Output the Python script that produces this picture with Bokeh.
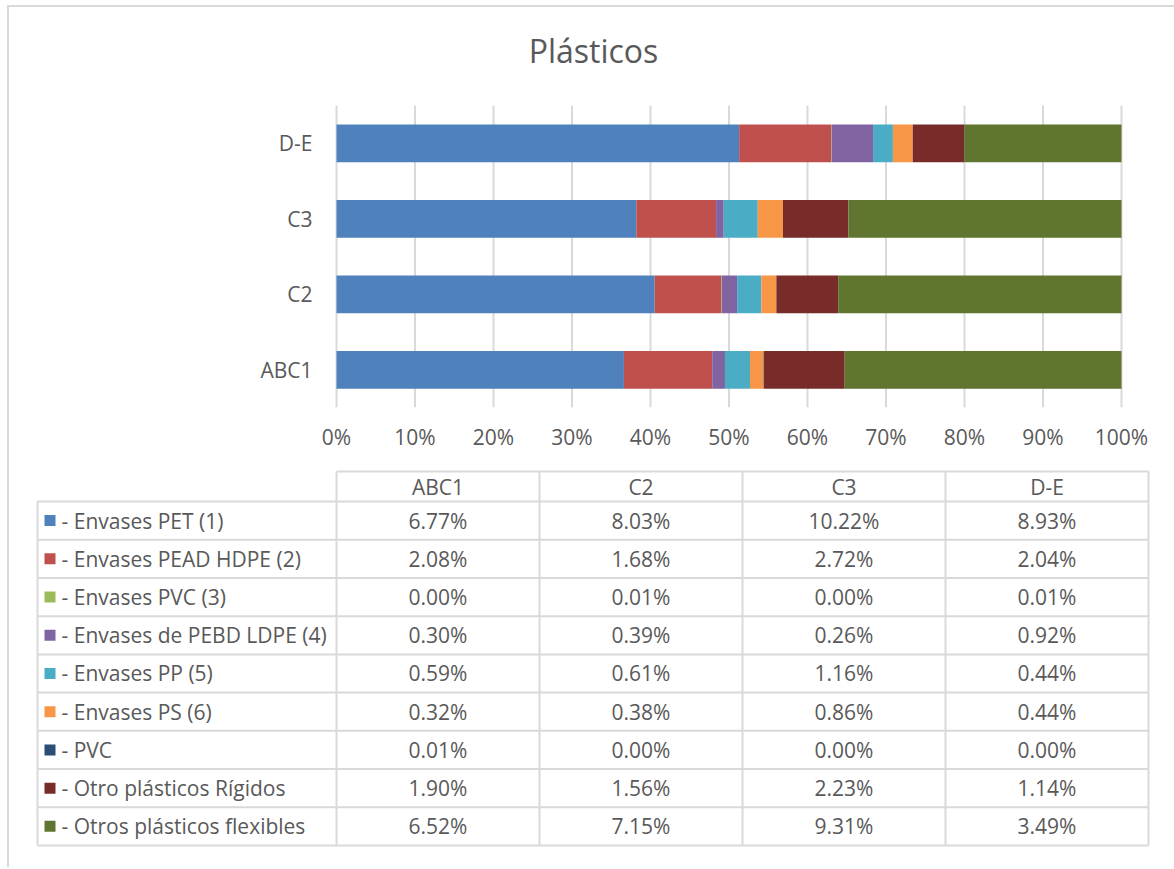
from bokeh.plotting import figure
from bokeh.layouts import column
from bokeh.models import ColumnDataSource, Range1d, FixedTicker, PrintfTickFormatter
from bokeh.core.properties import value
from bokeh.embed import file_html
from bokeh.resources import INLINE

# ---------------- data ----------------
title_text = "Plásticos"
groups = ["ABC1", "C2", "C3", "D-E"]
series_names = [
    "- Envases PET (1)",
    "- Envases PEAD HDPE (2)",
    "- Envases PVC (3)",
    "- Envases de PEBD LDPE (4)",
    "- Envases PP (5)",
    "- Envases PS (6)",
    "- PVC",
    "- Otro plásticos Rígidos",
    "- Otros plásticos flexibles",
]
envases_pet = [6.77, 8.03, 10.22, 8.93]
envases_pead = [2.08, 1.68, 2.72, 2.04]
envases_pvc = [0.00, 0.01, 0.00, 0.01]
envases_pebd = [0.30, 0.39, 0.26, 0.92]
envases_pp = [0.59, 0.61, 1.16, 0.44]
envases_ps = [0.32, 0.38, 0.86, 0.44]
pvc = [0.01, 0.00, 0.00, 0.00]
otro_rigidos = [1.90, 1.56, 2.23, 1.14]
otros_flexibles = [6.52, 7.15, 9.31, 3.49]
x_ticks = [0, 10, 20, 30, 40, 50, 60, 70, 80, 90, 100]

series_values = [envases_pet, envases_pead, envases_pvc, envases_pebd, envases_pp,
                 envases_ps, pvc, otro_rigidos, otros_flexibles]
colors = ["#4F81BD", "#C0504D", "#9BBB59", "#8064A2", "#4BACC6",
          "#F79646", "#2C4D75", "#772C2A", "#5F7530"]

TEXT = "#595959"
GRID = "#D9D9D9"
FONT = value("Open Sans")
FS = "21px"

# ---------------- layout (page pixels) ----------------
OX, OY = 9, 7              # content origin (after margin + 2px border)
W = 1174 - OX              # figure width
H1 = 460 - OY              # chart figure height
H2 = 407                   # table figure height
PLOT_L, PLOT_R = 336, 1121 # 0% and 100% positions
PLOT_T, PLOT_B = 105, 407  # plot area top / bottom
LABEL_GAP = 24             # category label right edge to plot left
TITLE_X, TITLE_Y = 593, 50 # title centre

n_groups = len(groups)
px_x = (PLOT_R - PLOT_L) / 100.0
px_y = (PLOT_B - PLOT_T) / float(n_groups)
x_start = -(PLOT_L - OX) / px_x
x_end = 100 + (OX + W - PLOT_R) / px_x
y_end = n_groups + (PLOT_T - OY) / px_y

# ---------------- 100% stacked bar chart ----------------
totals = [sum(s[i] for s in series_values) for i in range(n_groups)]
keys = ["s%d" % k for k in range(len(series_values))]
ypos = [i + 0.5 for i in range(n_groups)]
data = {"y": ypos}
for k, s in zip(keys, series_values):
    data[k] = [v / t * 100 for v, t in zip(s, totals)]
source = ColumnDataSource(data)

p = figure(width=W, height=H1, output_backend="svg", toolbar_location=None,
           x_range=Range1d(x_start, x_end), y_range=Range1d(0, y_end),
           y_axis_location=None,
           min_border_left=0, min_border_right=0,
           min_border_top=0, min_border_bottom=H1 - (PLOT_B - OY))
p.outline_line_color = None
p.grid.grid_line_color = None

# vertical gridlines over the plot area only
p.segment(x0=x_ticks, x1=x_ticks, y0=[0] * len(x_ticks), y1=[n_groups] * len(x_ticks),
          line_color=GRID, line_width=2)

p.hbar_stack(keys, y="y", height=0.5, color=colors, line_color=None, source=source)

# category labels
p.text(x=[-LABEL_GAP / px_x] * n_groups, y=ypos, text=groups,
       text_align="right", text_baseline="middle", text_font=FONT,
       text_font_size=FS, text_color=TEXT)

# title
p.text(x=[(TITLE_X - PLOT_L) / px_x], y=[n_groups + (PLOT_T - TITLE_Y) / px_y],
       text=[title_text], text_align="center", text_baseline="middle",
       text_font=FONT, text_font_size="32px", text_color=TEXT)

p.xaxis.ticker = FixedTicker(ticks=x_ticks)
p.xaxis.formatter = PrintfTickFormatter(format="%d%%")
p.xaxis.axis_line_color = None
p.xaxis.major_tick_line_color = None
p.xaxis.minor_tick_line_color = None
p.xaxis.major_tick_out = 0
p.xaxis.major_label_text_font = "Open Sans"
p.xaxis.major_label_text_font_size = FS
p.xaxis.major_label_text_color = TEXT
p.xaxis.major_label_standoff = 15

# ---------------- data table ----------------
TBL_LEFT = 37
COL_EDGES = [336, 539, 742, 945, 1148]
HEADER_TOP = 471
ROW_TOP = 501
ROW_H = 38.22
n_rows = len(series_names)
ROW_BOTTOM = ROW_TOP + n_rows * ROW_H

t = figure(width=W, height=H2, output_backend="svg", toolbar_location=None,
           x_range=Range1d(OX, OX + W), y_range=Range1d(OY + H1 + H2, OY + H1),
           min_border=0, x_axis_location=None, y_axis_location=None)
t.outline_line_color = None
t.grid.grid_line_color = None

x0, y0, x1, y1 = [], [], [], []
x0.append(COL_EDGES[0]); x1.append(COL_EDGES[-1]); y0.append(HEADER_TOP); y1.append(HEADER_TOP)
for i in range(n_rows + 1):
    yy = ROW_TOP + i * ROW_H
    x0.append(TBL_LEFT); x1.append(COL_EDGES[-1]); y0.append(yy); y1.append(yy)
x0.append(TBL_LEFT); x1.append(TBL_LEFT); y0.append(ROW_TOP); y1.append(ROW_BOTTOM)
for xe in COL_EDGES:
    x0.append(xe); x1.append(xe); y0.append(HEADER_TOP); y1.append(ROW_BOTTOM)
t.segment(x0=x0, y0=y0, x1=x1, y1=y1, line_color=GRID, line_width=2)

col_centers = [(COL_EDGES[j] + COL_EDGES[j + 1]) / 2 for j in range(n_groups)]
t.text(x=col_centers, y=[(HEADER_TOP + ROW_TOP) / 2] * n_groups, text=groups,
       text_align="center", text_baseline="middle", text_font=FONT,
       text_font_size=FS, text_color=TEXT)

row_centers = [ROW_TOP + (i + 0.5) * ROW_H for i in range(n_rows)]
t.scatter(x=[TBL_LEFT + 12.5] * n_rows, y=row_centers, marker="square", size=11,
          color=colors, line_color=None)
t.text(x=[TBL_LEFT + 24] * n_rows, y=row_centers, text=series_names,
       text_align="left", text_baseline="middle", text_font=FONT,
       text_font_size=FS, text_color=TEXT)

vx, vy, vt = [], [], []
for i, s in enumerate(series_values):
    for j, v in enumerate(s):
        vx.append(col_centers[j]); vy.append(row_centers[i]); vt.append("%.2f%%" % v)
t.text(x=vx, y=vy, text=vt, text_align="center", text_baseline="middle",
       text_font=FONT, text_font_size=FS, text_color=TEXT)

layout = column(p, t, spacing=0,
                styles={"margin-left": "7px", "margin-top": "5px",
                        "border-left": "2px solid #D9D9D9", "border-top": "2px solid #D9D9D9"})
open("out.html", "w").write(file_html(layout, INLINE))
